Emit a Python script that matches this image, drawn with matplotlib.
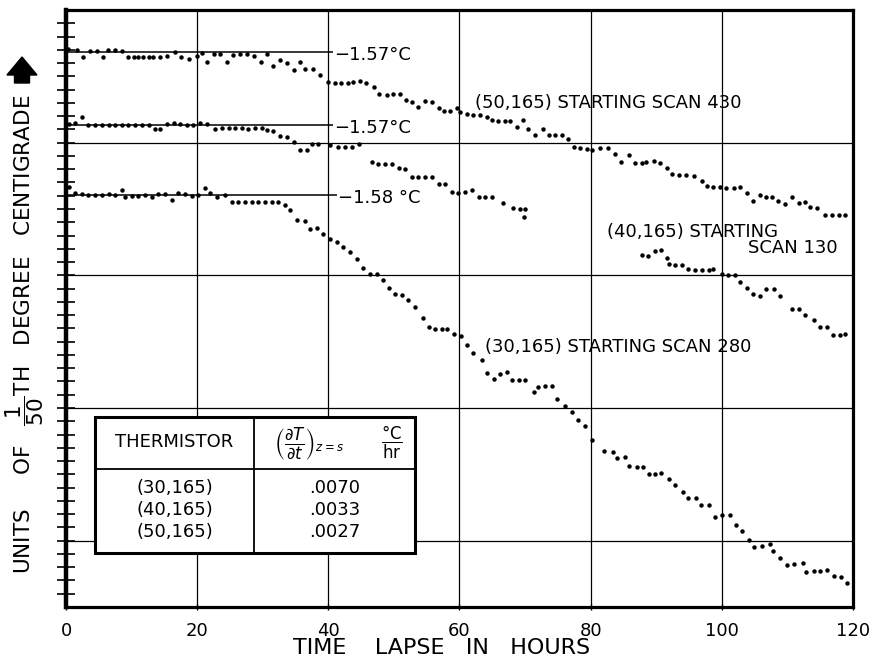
import numpy as np
import matplotlib
matplotlib.use("Agg")
import matplotlib.pyplot as plt
from matplotlib.patches import Rectangle, FancyArrow

plt.rcParams["font.family"] = ["DejaVu Sans"]
plt.rcParams["mathtext.fontset"] = "dejavusans"

# readings in units of 1/50 degC (arbitrary zero), time in hours
hours_50 = [0.3, 1.7, 2.6, 3.7, 4.7, 5.7, 6.4, 7.5, 8.5, 9.5,
            10.3, 11.0, 11.8, 12.6, 13.3, 14.3, 15.4, 16.6, 17.6, 18.7,
            19.9, 20.7, 21.5, 22.5, 23.5, 24.5, 25.5, 26.5, 27.6, 28.6,
            29.8, 30.6, 31.6, 32.6, 33.7, 34.7, 35.7, 36.5, 37.7, 38.7,
            40.0, 41.0, 42.0, 43.0, 43.8, 44.8, 45.8, 46.9, 47.8, 48.9,
            49.9, 50.9, 51.9, 52.7, 53.7, 54.7, 55.8, 56.8, 57.6, 58.6,
            59.6, 60.1, 61.1, 62.1, 63.1, 64.2, 64.9, 65.9, 66.9, 67.7,
            68.7, 69.7, 70.5, 71.5, 72.8, 73.6, 74.6, 75.6, 76.6, 77.4,
            78.4, 79.4, 80.2, 81.4, 82.7, 83.7, 84.7, 85.8, 86.8, 87.8,
            88.5, 89.6, 90.6, 91.6, 92.4, 93.4, 94.6, 95.7, 96.9, 97.7,
            98.7, 99.7, 100.7, 101.8, 102.8, 103.8, 104.8, 105.8, 106.8, 107.6,
            108.6, 109.6, 110.7, 111.7, 112.7, 113.5, 114.5, 115.7, 116.8, 117.8,
            118.8]
temp_50 = [42.06, 41.98, 41.46, 41.90, 41.90, 41.46, 41.98, 41.98, 41.90, 41.43,
           41.43, 41.43, 41.43, 41.43, 41.43, 41.48, 41.53, 41.86, 41.48, 41.28,
           41.53, 41.73, 41.10, 41.68, 41.68, 41.10, 41.60, 41.68, 41.68, 41.53,
           41.10, 41.68, 40.78, 41.23, 41.03, 40.47, 41.10, 40.52, 40.52, 40.10,
           39.60, 39.52, 39.52, 39.52, 39.60, 39.67, 39.52, 39.22, 38.67, 38.60,
           38.67, 38.67, 38.22, 38.09, 37.70, 38.17, 38.09, 37.59, 37.41, 37.41,
           37.59, 37.34, 37.16, 37.09, 37.09, 36.91, 36.71, 36.66, 36.66, 36.66,
           36.16, 36.71, 36.00, 35.58, 36.00, 35.58, 35.58, 35.58, 35.25, 34.70,
           34.57, 34.50, 34.44, 34.57, 34.57, 34.14, 33.56, 34.07, 33.49, 33.49,
           33.56, 33.64, 33.49, 33.06, 32.63, 32.56, 32.56, 32.48, 32.13, 31.73,
           31.68, 31.63, 31.55, 31.55, 31.63, 31.18, 30.62, 31.05, 30.92, 30.92,
           30.62, 30.37, 30.92, 30.47, 30.55, 30.12, 30.05, 29.54, 29.54, 29.54,
           29.54]

hours_40 = [0.4, 1.4, 2.4, 3.4, 4.4, 5.5, 6.5, 7.5, 8.5, 9.5,
            10.5, 11.6, 12.6, 13.6, 14.3, 15.4, 16.4, 17.4, 18.4, 19.4,
            20.4, 21.5, 22.7, 23.8, 24.8, 25.8, 26.8, 27.8, 28.8, 29.9,
            30.6, 31.6, 32.6, 33.7, 34.7, 35.7, 36.7, 37.5, 38.5, 40.3,
            41.5, 42.6, 43.6, 44.6, 46.6, 47.6, 48.6, 49.7, 50.7, 51.7,
            52.7, 53.7, 54.8, 55.8, 56.8, 57.8, 58.8, 59.8, 60.9, 61.9,
            62.9, 63.9, 64.9, 66.7, 68.2, 69.2, 70.0, 69.8,
            87.8, 88.8, 89.8, 90.8, 91.7, 91.9, 92.9, 93.9, 94.9, 95.9,
            96.9, 98.0, 98.7, 100.0, 101.0, 102.0, 102.8, 103.8, 104.8, 105.8,
            106.8, 107.9, 108.9, 110.7, 111.7, 112.7, 114.0, 115.0, 116.0, 117.0,
            118.0, 118.8]
temp_40 = [36.40, 36.50, 36.90, 36.33, 36.33, 36.33, 36.33, 36.33, 36.33, 36.33,
           36.33, 36.33, 36.33, 36.00, 36.00, 36.40, 36.50, 36.40, 36.33, 36.33,
           36.50, 36.40, 36.00, 36.08, 36.08, 36.08, 36.08, 36.00, 36.08, 36.08,
           35.95, 35.90, 35.50, 35.40, 35.07, 34.44, 34.44, 34.90, 34.90, 34.80,
           34.70, 34.64, 34.70, 34.90, 33.56, 33.39, 33.39, 33.39, 33.06, 32.99,
           32.43, 32.43, 32.38, 32.38, 31.88, 31.88, 31.30, 31.23, 31.30, 31.43,
           30.93, 30.93, 30.88, 30.43, 30.05, 29.98, 29.98, 29.42,
           26.53, 26.45, 26.85, 26.90, 26.28, 25.85, 25.77, 25.77, 25.45, 25.40,
           25.40, 25.40, 25.45, 25.10, 25.02, 25.02, 24.52, 24.02, 23.59, 23.44,
           23.94, 23.94, 23.44, 22.43, 22.43, 22.00, 21.63, 21.13, 21.08, 20.50,
           20.50, 20.57]

hours_30 = [0.4, 1.4, 2.4, 3.4, 4.4, 5.5, 6.5, 7.5, 8.5, 9.0,
            10.0, 11.0, 12.1, 13.1, 14.1, 15.1, 16.1, 17.1, 18.2, 19.2,
            20.2, 21.2, 22.0, 23.0, 24.3, 25.3, 26.3, 27.3, 28.3, 29.3,
            30.4, 31.4, 32.4, 33.4, 34.2, 35.2, 36.4, 37.2, 38.2, 39.2,
            40.3, 41.3, 42.3, 43.3, 44.3, 45.3, 46.4, 47.4, 48.4, 49.2,
            50.2, 51.2, 52.2, 53.2, 54.4, 55.3, 56.3, 57.3, 58.1, 59.1,
            60.2, 61.1, 62.1, 63.4, 64.2, 65.2, 66.2, 67.2, 68.0, 69.0,
            70.0, 71.3, 72.0, 73.0, 74.1, 74.9, 76.1, 77.1, 78.1, 79.2,
            80.2, 82.0, 83.4, 84.0, 85.2, 85.9, 87.0, 88.0, 88.9, 89.8,
            90.8, 92.0, 92.9, 94.1, 94.9, 96.1, 96.8, 98.0, 98.9, 100.0,
            101.3, 102.1, 103.1, 104.1, 104.9, 106.1, 107.3, 107.8, 108.9, 109.9,
            111.0, 112.3, 112.9, 114.0, 115.0, 116.0, 117.1, 118.1, 119.1]
temp_30 = [31.68, 31.18, 31.13, 31.05, 31.05, 31.05, 31.13, 31.05, 31.43, 30.93,
           30.98, 30.98, 31.05, 30.93, 31.13, 31.13, 30.67, 31.18, 31.13, 30.98,
           31.05, 31.55, 31.18, 30.93, 31.05, 30.55, 30.55, 30.55, 30.55, 30.55,
           30.55, 30.55, 30.55, 30.30, 29.92, 29.17, 29.12, 28.46, 28.54, 28.10,
           27.75, 27.54, 27.13, 26.74, 26.24, 25.57, 25.12, 25.10, 24.65, 24.06,
           23.59, 23.52, 23.14, 22.59, 21.76, 21.08, 20.93, 20.93, 20.93, 20.58,
           20.45, 19.75, 19.12, 18.65, 17.66, 17.20, 17.58, 17.70, 17.08, 17.11,
           17.11, 16.23, 16.58, 16.66, 16.63, 15.65, 15.15, 14.72, 14.10, 13.68,
           12.56, 11.78, 11.71, 11.21, 11.28, 10.63, 10.53, 10.53, 10.03, 10.03,
           10.08, 9.62, 9.20, 8.69, 8.19, 8.19, 7.69, 7.69, 6.81, 6.94,
           6.94, 6.18, 5.75, 5.05, 4.55, 4.60, 4.75, 4.25, 3.67, 3.17,
           3.24, 3.34, 2.66, 2.74, 2.74, 2.79, 2.34, 2.24, 1.78]

# starting levels and their temperatures
ref_levels = [41.83, 36.33, 31.05]
ref_ends = [40.7, 40.7, 41.3]
ref_labels = ["\u22121.57\u00b0C", "\u22121.57\u00b0C", "\u22121.58 \u00b0C"]

thermistors = ["(30,165)", "(40,165)", "(50,165)"]
rates = [".0070", ".0033", ".0027"]

fig = plt.figure(figsize=(8.76, 6.64), dpi=100)
ax = fig.add_axes([66 / 876, 57 / 664, 787 / 876, 597 / 664])
ax.set_xlim(0, 120)
ax.set_ylim(0, 45)

for h, t in [(hours_50, temp_50), (hours_40, temp_40), (hours_30, temp_30)]:
    ax.plot(h, t, "o", ms=3.2, color="black", mec="none", zorder=4)

ax.hlines(ref_levels, 0, ref_ends, color="black", lw=1.1, zorder=3)
for lev, end, lab in zip(ref_levels, ref_ends, ref_labels):
    ax.text(end + 0.2, lev - 0.25, lab, fontsize=13, va="center", ha="left", zorder=5)

ax.text(62.4, 38.0, "(50,165) STARTING SCAN 430", fontsize=13, va="center")
ax.text(82.5, 28.3, "(40,165) STARTING", fontsize=13, va="center")
ax.text(117.6, 27.05, "SCAN 130", fontsize=13, va="center", ha="right")
ax.text(63.9, 19.6, "(30,165) STARTING SCAN 280", fontsize=13, va="center")

# table of slopes
x0, x1, x2 = 4.42, 28.67, 53.2
y0, y1, y2 = 4.07, 10.4, 14.32
ax.add_patch(Rectangle((x0, y0), x2 - x0, y2 - y0, fc="white", ec="black", lw=2.2, zorder=6))
ax.plot([x0, x2], [y1, y1], color="black", lw=1.3, zorder=7)
ax.plot([x1, x1], [y0, y2], color="black", lw=1.3, zorder=7)
ax.text((x0 + x1) / 2, 12.4, "THERMISTOR", fontsize=13, ha="center", va="center", zorder=8)
ax.text(37.0, 12.3, r"$\left(\dfrac{\partial T}{\partial t}\right)_{z=s}$", fontsize=12,
        ha="center", va="center", zorder=8)
ax.text(49.7, 12.4, r"$\dfrac{\mathrm{°C}}{\mathrm{hr}}$", fontsize=12,
        ha="center", va="center", zorder=8)
ax.text((x0 + x1) / 2, 7.3, "\n".join(thermistors), fontsize=13, ha="center", va="center",
        linespacing=1.3, zorder=8)
ax.text((x1 + x2) / 2, 7.3, "\n".join(rates), fontsize=13, ha="center", va="center",
        linespacing=1.3, zorder=8)

ax.set_xticks(range(0, 121, 20))
ax.set_yticks([5, 15, 25, 35])
ax.set_yticks(np.arange(1, 45), minor=True)
ax.set_yticklabels([])
ax.grid(which="major", color="black", lw=0.9, zorder=1)
ax.set_axisbelow(True)
ax.tick_params(axis="y", which="both", direction="inout", length=13, width=1.2, labelleft=False)
ax.tick_params(axis="x", direction="inout", length=5, width=1.0, labelsize=13, pad=8)
for side in ["top", "right", "bottom"]:
    ax.spines[side].set_linewidth(2.3)
ax.spines["left"].set_linewidth(3.2)

fig.text(442 / 876, 1 - 648 / 664, "TIME    LAPSE   IN   HOURS", fontsize=16, ha="center", va="center")
fig.text(25 / 876, 1 - 334 / 664,
         r"UNITS     OF   $\dfrac{1}{50}$TH   DEGREE   CENTIGRADE",
         fontsize=15.5, rotation=90, ha="center", va="center")
fig.patches.append(FancyArrow(22 / 876, 1 - 83 / 664, 0, 26 / 664, width=15 / 876,
                              head_width=30 / 876, head_length=18 / 664,
                              length_includes_head=True, color="black",
                              transform=fig.transFigure, figure=fig))

fig.savefig("out.png", dpi=100)
